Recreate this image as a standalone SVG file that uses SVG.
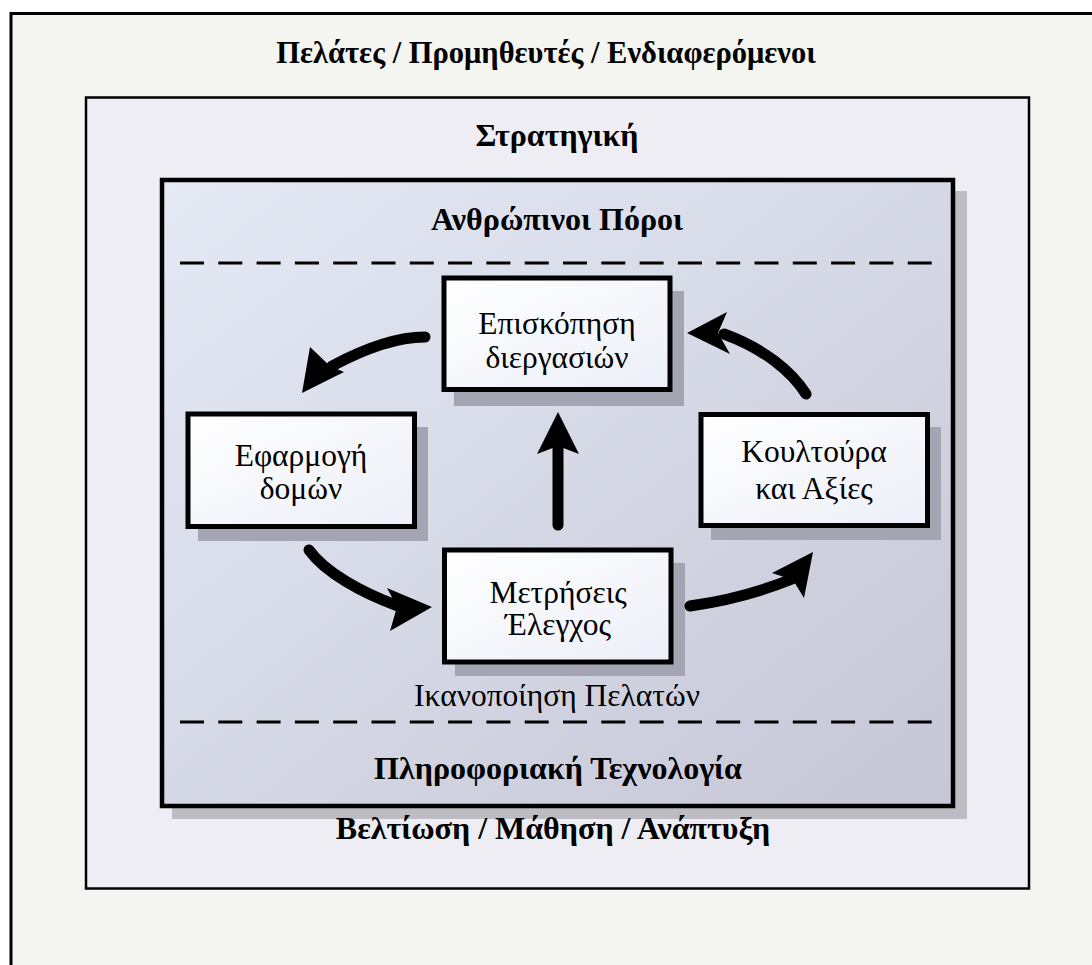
<svg xmlns="http://www.w3.org/2000/svg" width="1092" height="965" viewBox="0 0 1092 965">
  <defs>
    <linearGradient id="coreFill" x1="0" y1="0" x2="1" y2="1">
      <stop offset="0" stop-color="#e5eaf5"/>
      <stop offset="1" stop-color="#c6c6d6"/>
    </linearGradient>
    <linearGradient id="boxFill" x1="0" y1="0" x2="1" y2="1">
      <stop offset="0" stop-color="#ffffff"/>
      <stop offset="1" stop-color="#eceff8"/>
    </linearGradient>
    <style>
      .title { font-family: "Liberation Serif", "Times New Roman", serif; font-weight: bold; font-size: 32px; fill: #000; text-anchor: middle; }
      .top-title { font-size: 30.5px; }
      .label { font-family: "Liberation Serif", "Times New Roman", serif; font-size: 31.5px; fill: #000; text-anchor: middle; }
      .box { fill: url(#boxFill); stroke: #000; stroke-width: 5; }
      .shadow { fill: #a4a4b2; }
      .dash { stroke: #000; stroke-width: 3; stroke-dasharray: 24 14.3; fill: none; }
      .shaft { stroke: #000; stroke-width: 11; stroke-linecap: round; fill: none; }
      .head { fill: #000; }
    </style>
  </defs>

  <rect x="0" y="0" width="1092" height="965" fill="#ffffff"/>

  <!-- outer frame: stakeholders -->
  <g id="stakeholders">
    <rect x="11" y="13.5" width="1100" height="970" fill="#f4f5f0" stroke="#000" stroke-width="3"/>
    <text class="title top-title" x="546" y="63">Πελάτες / Προμηθευτές / Ενδιαφερόμενοι</text>
  </g>

  <!-- strategy frame, with the core frame inside it -->
  <g id="strategy">
    <rect x="86" y="97.5" width="943" height="791" fill="#ededf3" stroke="#000" stroke-width="2.5"/>

    <g id="core">
      <rect x="172" y="191" width="795" height="628" fill="#bdbcc3"/>
      <rect x="162" y="180" width="791" height="626" fill="url(#coreFill)" stroke="#000" stroke-width="4.5"/>
      <text class="title" x="557" y="230">Ανθρώπινοι Πόροι</text>
      <text class="title" x="558" y="779">Πληροφοριακή Τεχνολογία</text>
      <line class="dash" x1="180" y1="263" x2="933" y2="263"/>
      <line class="dash" x1="180" y1="722" x2="933" y2="722"/>
      <text class="label" x="557" y="706">Ικανοποίηση Πελατών</text>
    </g>

    <text class="title" x="557" y="146">Στρατηγική</text>
    <text class="title" x="553" y="839">Βελτίωση / Μάθηση / Ανάπτυξη</text>
  </g>

  <!-- process boxes -->
  <g id="review">
    <rect class="shadow" x="454" y="291" width="230" height="115"/>
    <rect class="box" x="444" y="278" width="226" height="111.5"/>
    <text class="label" x="557" y="334">Επισκόπηση</text>
    <text class="label" x="557" y="368">διεργασιών</text>
  </g>

  <g id="structures">
    <rect class="shadow" x="198" y="427" width="230" height="114"/>
    <rect class="box" x="188" y="414" width="226.5" height="112.5"/>
    <text class="label" x="301" y="466">Εφαρμογή</text>
    <text class="label" x="301" y="499">δομών</text>
  </g>

  <g id="culture">
    <rect class="shadow" x="711" y="427" width="230" height="113"/>
    <rect class="box" x="701" y="414.5" width="226.5" height="111"/>
    <text class="label" x="814" y="462">Κουλτούρα</text>
    <text class="label" x="814" y="499">και Αξίες</text>
  </g>

  <g id="measurement">
    <rect class="shadow" x="455" y="563" width="230" height="113"/>
    <rect class="box" x="444.5" y="550" width="226.5" height="112"/>
    <text class="label" x="558" y="603">Μετρήσεις</text>
    <text class="label" x="558" y="635">Έλεγχος</text>
  </g>

  <!-- connectors -->
  <g id="connectors">
    <!-- review to structures -->
    <path class="shaft" d="M 425 337 C 395 337 362 350 332 366"/>
    <polygon class="head" points="302,393 310,347 330,366 344,372"/>
    <!-- structures to measurement -->
    <path class="shaft" d="M 309 550 C 325 572 360 592 398 606"/>
    <polygon class="head" points="432,607 387,588 397,607 390,631"/>
    <!-- measurement to culture -->
    <path class="shaft" d="M 690 606 C 725 601 760 592 792 579"/>
    <polygon class="head" points="813,552 772,573 793,580 804,598"/>
    <!-- culture to review -->
    <path class="shaft" d="M 806 394 C 792 372 765 349 724 334"/>
    <polygon class="head" points="687,333 727,312 718,333 730,354"/>
    <!-- measurement to review -->
    <line class="shaft" x1="558" y1="525" x2="558" y2="448"/>
    <polygon class="head" points="558,412 579,454 558,446 537,454"/>
  </g>
</svg>
